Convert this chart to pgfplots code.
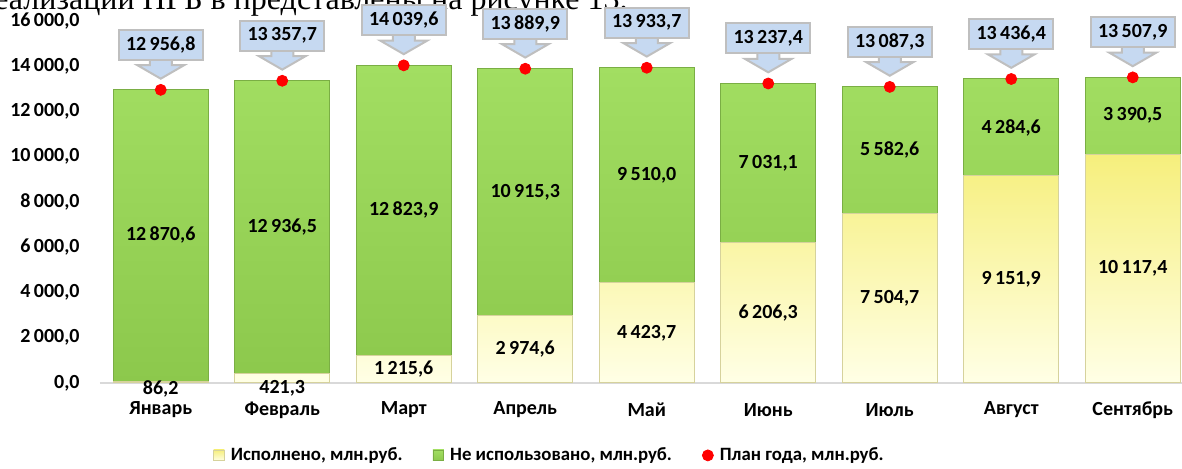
\documentclass[border=0pt]{standalone}
\usepackage{pgfplots}
\usepackage{pgfplotstable}
\pgfplotsset{compat=1.18}
\usepackage{fontspec}
\setmainfont{Carlito}
\newfontfamily\serifru{Liberation Serif}
\usetikzlibrary{shapes.arrows}
\definecolor{gtop}{HTML}{A2DE62}
\definecolor{gbot}{HTML}{8CC84C}
\definecolor{gdraw}{HTML}{7AAE44}
\definecolor{ytop}{HTML}{F6EF7C}
\definecolor{ybot}{HTML}{FFFFE6}
\definecolor{ydraw}{HTML}{D6D29C}
\definecolor{cfill}{HTML}{C6D9F1}
\definecolor{cdraw}{HTML}{BFBFBF}
\definecolor{axgray}{HTML}{D9D9D9}
\pgfplotstableread{
x yel grn plan yly gry
0 86.2 12870.6 12956.8 -270 6521.5
1 421.3 12936.5 13357.7 -240 6889.6
2 1215.6 12823.9 14039.6 607.8 7627.6
3 2974.6 10915.3 13889.9 1487.3 8432.3
4 4423.7 9510.0 13933.7 2211.9 9178.7
5 6206.3 7031.1 13237.4 3103.2 9721.9
6 7504.7 5582.6 13087.3 3752.4 10296.0
7 9151.9 4284.6 13436.4 4576.0 11294.2
8 10117.4 3390.5 13507.9 5058.7 11812.7
}\data
\begin{document}
\begin{tikzpicture}
\node[anchor=base east, inner sep=0pt, font=\serifru\fontsize{16}{19}\selectfont] at (264pt,186.75pt) {реализации НГБ в представлены на рисунке 13.};
\begin{axis}[
  at={(0,0)}, anchor=south west,
  scale only axis, width=546.75pt, height=181pt,
  xmin=-0.5, xmax=8.5, ymin=0, ymax=16000,
  clip=false,
  axis lines*=left,
  y axis line style={draw=none},
  x axis line style={draw=axgray, line width=1pt},
  major tick length=0pt,
  xtick={0,...,8},
  xticklabels={Январь,Февраль,Март,Апрель,Май,Июнь,Июль,Август,Сентябрь},
  ytick={0,2000,...,16000},
  scaled y ticks=false,
  /pgf/number format/fixed,
  /pgf/number format/fixed zerofill,
  /pgf/number format/precision=1,
  /pgf/number format/use comma,
  /pgf/number format/1000 sep={\,},
  /pgf/number format/assume math mode=true,
  ticklabel style={font=\bfseries\fontsize{10}{12}\selectfont, inner sep=0pt},
  yticklabel style={anchor=east, xshift=-10pt},
  xticklabel style={anchor=center, yshift=-13.5pt},
  legend style={draw=none, at={(0.411,-0.2)}, anchor=center, legend columns=3,
    font=\bfseries\fontsize{9.4}{11}\selectfont, inner sep=0pt,
    nodes={inner sep=1pt},
    /tikz/every odd column/.append style={column sep=2pt},
    /tikz/every even column/.append style={column sep=14pt}},
]
\addlegendimage{legend image code/.code={\draw[draw=ydraw, top color=ytop, bottom color=ybot] (0pt,-2.7pt) rectangle (5.4pt,2.7pt);}}
\addlegendentry{Исполнено, млн.руб.}
\addlegendimage{legend image code/.code={\draw[draw=gdraw, top color=gtop, bottom color=gbot] (0pt,-2.7pt) rectangle (5.4pt,2.7pt);}}
\addlegendentry{Не использовано, млн.руб.}
\addlegendimage{legend image code/.code={\fill[red] (2.75pt,0pt) circle (2.75pt);}}
\addlegendentry{План года, млн.руб.}

\addplot[forget plot, ybar, bar width=0.78, bar shift=0pt, draw=gdraw, line width=0.5pt, top color=gtop, bottom color=gbot]
  table[x=x, y=plan] {\data};
\addplot[forget plot, ybar, bar width=0.78, bar shift=0pt, draw=ydraw, line width=0.5pt, top color=ytop, bottom color=ybot]
  table[x=x, y=yel] {\data};

\addplot[forget plot, draw=none, mark=none, nodes near coords, point meta=explicit,
  every node near coord/.style={anchor=center, inner sep=0pt, font=\bfseries\fontsize{10}{12}\selectfont, text=black}]
  table[x=x, y=gry, meta=grn] {\data};
\addplot[forget plot, draw=none, mark=none, nodes near coords, point meta=explicit,
  every node near coord/.style={anchor=center, inner sep=0pt, font=\bfseries\fontsize{10}{12}\selectfont, text=black}]
  table[x=x, y=yly, meta=yel] {\data};

% callout arrows
\addplot[forget plot, draw=none, mark=none, nodes near coords={}, point meta=y,
  every node near coord/.style={shape=single arrow, shape border rotate=270,
    single arrow head extend=6.25pt, single arrow tip angle=120,
    inner sep=0pt, inner xsep=5pt, text width=0pt, text height=0pt, text depth=0pt,
    minimum height=10.5pt,
    fill=cfill, draw=cdraw, line width=1pt,
    anchor=tip, yshift=5pt}]
  table[x=x, y=plan] {\data};
% callout boxes
\addplot[forget plot, draw=none, mark=none, nodes near coords, point meta=y,
  every node near coord/.style={shape=rectangle, minimum width=42pt, minimum height=15pt, inner sep=0pt,
    fill=cfill, draw=cdraw, line width=1pt, text=black,
    anchor=south, yshift=14.5pt,
    font=\bfseries\fontsize{10}{12}\selectfont}]
  table[x=x, y=plan] {\data};
% plan points
\addplot[forget plot, only marks, mark=*, mark size=2.75pt, color=red]
  table[x=x, y=plan] {\data};
\end{axis}
\pgfresetboundingbox
\path (-50pt,-43pt) rectangle (541pt,191.5pt);
\end{tikzpicture}
\end{document}
